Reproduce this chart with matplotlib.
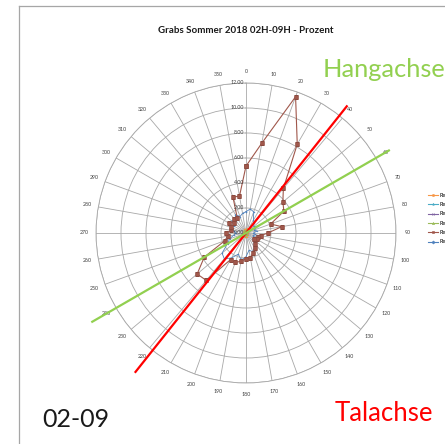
import numpy as np
import matplotlib.pyplot as plt
from matplotlib.lines import Line2D

plt.rcParams['font.family'] = ['Lato', 'DejaVu Sans']

# wind directions (degrees) and radial scale
directions = list(range(0, 360, 10))
direction_labels = [str(d) for d in directions]
ring_values = [0, 2, 4, 6, 8, 10, 12]
ring_labels = ['0.00', '2.00', '4.00', '6.00', '8.00', '10.00', '12.00']

series_names = ['Reihe1', 'Reihe2', 'Reihe3', 'Reihe4', 'Reihe5', 'Reihe6']

# percentage per direction
reihe1 = [1.7, 1.95, 1.8, 1.2, 1.0, 0.8, 1.1, 0.7, 0.9, 0.6, 0.8, 0.6,
          0.9, 0.7, 1.0, 1.3, 1.6, 1.4, 1.9, 2.2, 1.8, 2.3, 2.7, 2.5,
          1.7, 1.4, 1.0, 0.8, 1.0, 1.3, 1.1, 1.5, 1.3, 1.7, 1.4, 1.6]
reihe2 = [5.35, 7.3, 11.6, 8.2, 4.65, 3.85, 3.5, 2.1, 2.9, 1.75, 1.2, 1.0,
          1.0, 0.8, 1.1, 1.4, 1.7, 2.0, 2.05, 2.3, 2.5, 2.45, 4.95, 5.1,
          3.85, 1.8, 1.5, 1.6, 1.2, 1.3, 1.6, 1.3, 1.5, 1.4, 3.05, 3.0]
reihe3 = [0.2, 0.3, 0.3, 0.2, 0.1, 0.1, 0.2, 0.1, 0.1, 0.1, 0.1, 0.1,
          0.1, 0.1, 0.1, 0.2, 0.2, 0.2, 0.2, 0.3, 0.2, 0.3, 0.3, 0.3,
          0.2, 0.2, 0.1, 0.1, 0.1, 0.2, 0.1, 0.2, 0.2, 0.2, 0.2, 0.2]
reihe4 = [0.1, 0.2, 0.2, 0.1, 0.1, 0.1, 0.1, 0.1, 0.1, 0.1, 0.1, 0.1,
          0.1, 0.1, 0.1, 0.1, 0.1, 0.1, 0.2, 0.2, 0.2, 0.2, 0.2, 0.2,
          0.1, 0.1, 0.1, 0.1, 0.1, 0.1, 0.1, 0.1, 0.1, 0.1, 0.1, 0.1]
reihe5 = [0.2, 0.2, 0.3, 0.2, 0.2, 0.1, 0.1, 0.1, 0.1, 0.1, 0.1, 0.1,
          0.1, 0.1, 0.1, 0.1, 0.2, 0.2, 0.2, 0.2, 0.2, 0.2, 0.3, 0.2,
          0.2, 0.1, 0.1, 0.1, 0.1, 0.1, 0.1, 0.1, 0.2, 0.2, 0.2, 0.2]
reihe6 = [0.3, 0.3, 0.4, 0.3, 0.2, 0.2, 0.2, 0.1, 0.2, 0.1, 0.1, 0.1,
          0.1, 0.1, 0.2, 0.2, 0.2, 0.3, 0.3, 0.3, 0.3, 0.3, 0.4, 0.3,
          0.3, 0.2, 0.2, 0.1, 0.2, 0.2, 0.2, 0.2, 0.2, 0.3, 0.3, 0.3]

series = [reihe1, reihe2, reihe3, reihe4, reihe5, reihe6]
colors = ['#4F81BD', '#A0574B', '#9BBB59', '#8064A2', '#4BACC6', '#F79646']
markers = ['D', 's', '^', 'x', '*', 'o']

# valley and slope axes drawn across the rose (bearing, outer radius each side)
talachse = (38.5, 12.95, 14.2)
hangachse = (60.0, 13.2, 14.2)

fig = plt.figure(figsize=(4.45, 4.44), dpi=100)
ax = fig.add_axes([0.2157, 0.1374, 0.6742, 0.6757], projection='polar')
ax.set_theta_zero_location('N')
ax.set_theta_direction(-1)
ax.set_ylim(0, 12)

theta = np.deg2rad(directions + [directions[0]])

# draw the small series first so the big one stays on top
handles = {}
for i in [5, 4, 3, 2, 0, 1]:
    vals = series[i] + [series[i][0]]
    if i == 1:
        line, = ax.plot(theta, vals, color=colors[i], lw=0.8, marker='s',
                        ms=2.3, mew=0.4, mec='#8A4A3F', zorder=4)
    else:
        line, = ax.plot(theta, vals, color=colors[i], lw=0.6,
                        marker=markers[i], ms=0.6, mew=0.3, zorder=3)
    handles[i] = line

ax.set_thetagrids(directions, labels=[])
ax.set_rgrids(ring_values[1:], labels=[])
ax.grid(color='#A8A8A8', lw=0.6)
ax.spines['polar'].set_color('#A8A8A8')
ax.spines['polar'].set_linewidth(0.6)
ax.tick_params(length=0)

for d, lab in zip(directions, direction_labels):
    ax.text(np.deg2rad(d), 12.9, lab, fontsize=3.8, color='#404040',
            ha='center', va='center', clip_on=False)

for v, lab in zip(ring_values, ring_labels):
    ax.annotate(lab, xy=(0, v), xytext=(-1.5, 0), textcoords='offset points',
                fontsize=3.8, color='#404040', ha='right', va='center',
                zorder=6)

for (bearing, r_top, r_bottom), col in [(talachse, '#FF0000'),
                                        (hangachse, '#92D050')]:
    t = np.deg2rad(bearing)
    ax.plot([t + np.pi, t + np.pi, t, t], [r_bottom, 0, 0, r_top],
            color=col, lw=1.6, clip_on=False, zorder=5)

# legend on the right, running off the page edge
order = [5, 4, 3, 2, 1, 0]
leg_handles = [Line2D([], [], color=colors[i], lw=0.8, marker=markers[i],
                      ms=1.6, mew=0.4) for i in order]
fig.legend(leg_handles, [series_names[i] for i in order],
           loc='upper left', bbox_to_anchor=(0.955, 0.572),
           frameon=False, fontsize=4, handlelength=1.8,
           handletextpad=0.3, labelspacing=0.78, borderpad=0)

fig.text(0.553, 0.932, 'Grabs Sommer 2018 02H-09H - Prozent', fontsize=7,
         fontweight='bold', ha='center', va='center', color='#1A1A1A')
fig.text(0.7258, 0.8266, 'Hangachse', fontsize=18.3, color='#92D050',
         ha='left', va='baseline')
fig.text(0.7528, 0.0518, 'Talachse', fontsize=18.5, color='#FF0000',
         ha='left', va='baseline')
fig.text(0.0944, 0.0383, '02-09', fontsize=18, color='#1A1A1A',
         ha='left', va='baseline')

# page frame
fig.add_artist(Line2D([0.0438, 0.0438], [0.0, 0.9865], color='#A6A6A6',
                      lw=0.9, transform=fig.transFigure))
fig.add_artist(Line2D([0.0438, 1.0], [0.9865, 0.9865], color='#A6A6A6',
                      lw=0.9, transform=fig.transFigure))

fig.savefig('out.png', dpi=100)
